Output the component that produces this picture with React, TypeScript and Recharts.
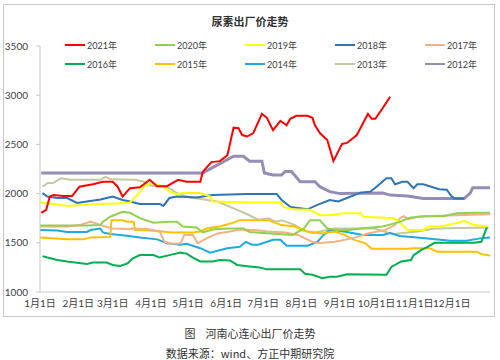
import React from 'react';
import { LineChart, Line, XAxis, YAxis } from 'recharts';

// day of year (0 = Jan 1) and price
const days2021 = [1, 5, 8, 11, 19, 26, 32, 43, 51, 59, 63, 67, 73, 81, 89, 95, 103, 112, 119, 130, 132, 139, 146, 152, 157, 161, 164, 168, 173, 180, 184, 189, 195, 200, 203, 208, 217, 221, 223, 227, 233, 238, 245, 249, 257, 266, 269, 272, 278, 284];
const price2021 = [1805, 1835, 1970, 1985, 1975, 1975, 2070, 2095, 2120, 2120, 2070, 1970, 2055, 2065, 2140, 2075, 2075, 2140, 2120, 2120, 2220, 2320, 2330, 2390, 2670, 2665, 2595, 2580, 2615, 2810, 2770, 2645, 2740, 2695, 2760, 2790, 2790, 2770, 2695, 2615, 2545, 2330, 2505, 2515, 2595, 2810, 2760, 2760, 2870, 2985];

const days2020 = [0, 38, 49, 51, 57, 62, 67, 73, 81, 92, 105, 111, 116, 127, 132, 140, 152, 165, 170, 187, 205, 214, 219, 227, 233, 241, 251, 260, 278, 290, 300, 311, 327, 338, 354, 365];
const price2020 = [1675, 1675, 1680, 1715, 1765, 1790, 1815, 1805, 1750, 1705, 1715, 1715, 1665, 1655, 1605, 1635, 1645, 1645, 1610, 1595, 1580, 1645, 1730, 1730, 1645, 1630, 1630, 1645, 1665, 1705, 1755, 1770, 1770, 1800, 1805, 1805];

const days2019 = [0, 11, 22, 35, 49, 62, 73, 79, 84, 89, 95, 100, 105, 111, 116, 130, 138, 140, 170, 195, 197, 205, 219, 227, 235, 246, 260, 262, 287, 293, 298, 311, 315, 325, 336, 344, 352, 363];
const price2019 = [1910, 1895, 1875, 1885, 1895, 1900, 1910, 1985, 2070, 2105, 2095, 2070, 2020, 1995, 2005, 2005, 1970, 1920, 1910, 1910, 1865, 1840, 1835, 1780, 1780, 1800, 1800, 1765, 1750, 1695, 1630, 1630, 1665, 1665, 1695, 1720, 1680, 1665];

const days2018 = [2, 6, 14, 22, 30, 38, 49, 59, 67, 73, 81, 97, 100, 105, 111, 127, 140, 168, 192, 196, 203, 217, 225, 235, 242, 249, 260, 268, 273, 281, 285, 288, 294, 298, 303, 306, 311, 316, 324, 330, 333, 336, 344];
const price2018 = [2005, 1970, 1955, 1955, 1905, 1920, 1940, 1970, 1935, 1920, 1895, 1895, 1875, 1955, 1970, 1960, 1985, 1995, 1995, 1935, 1865, 1840, 1885, 1935, 1920, 1955, 2010, 2020, 2070, 2155, 2155, 2095, 2120, 2120, 2055, 2095, 2095, 2075, 2045, 2040, 1985, 1950, 1950];

const days2017 = [0, 22, 32, 41, 47, 53, 59, 71, 75, 87, 97, 101, 107, 114, 117, 124, 128, 135, 144, 154, 162, 169, 174, 185, 199, 209, 221, 225, 239, 253, 266, 280, 288, 292, 295, 299, 306, 324, 365];
const price2017 = [1665, 1665, 1680, 1715, 1690, 1665, 1645, 1640, 1645, 1640, 1615, 1510, 1490, 1495, 1580, 1580, 1495, 1545, 1595, 1615, 1635, 1630, 1630, 1615, 1605, 1580, 1510, 1495, 1510, 1545, 1595, 1630, 1680, 1750, 1770, 1740, 1765, 1775, 1790];

const days2016 = [2, 6, 14, 22, 38, 43, 54, 59, 65, 71, 75, 81, 92, 97, 105, 114, 119, 124, 130, 140, 146, 154, 160, 170, 178, 184, 211, 215, 221, 229, 235, 241, 249, 281, 285, 293, 301, 303, 309, 314, 320, 352, 358, 362, 363];
const price2016 = [1365, 1350, 1325, 1310, 1285, 1300, 1300, 1275, 1265, 1290, 1340, 1375, 1375, 1350, 1375, 1400, 1390, 1350, 1310, 1310, 1325, 1320, 1275, 1260, 1250, 1230, 1230, 1185, 1175, 1140, 1155, 1155, 1180, 1175, 1255, 1310, 1325, 1375, 1425, 1455, 1500, 1500, 1510, 1645, 1660];

const days2015 = [0, 22, 35, 41, 57, 58, 67, 71, 76, 77, 89, 108, 124, 130, 135, 146, 157, 162, 185, 196, 207, 217, 229, 239, 247, 255, 264, 269, 298, 303, 316, 322, 354, 358, 365];
const price2015 = [1555, 1535, 1535, 1555, 1560, 1730, 1730, 1715, 1715, 1630, 1625, 1605, 1605, 1615, 1645, 1665, 1705, 1730, 1730, 1680, 1665, 1615, 1595, 1615, 1580, 1530, 1495, 1440, 1440, 1445, 1445, 1410, 1410, 1385, 1370];

const days2014 = [0, 14, 22, 38, 41, 49, 51, 57, 69, 81, 95, 103, 114, 119, 130, 138, 144, 152, 162, 167, 172, 177, 189, 195, 200, 217, 225, 230, 235, 241, 249, 262, 278, 284, 292, 306, 333, 346, 357, 365];
const price2014 = [1630, 1625, 1610, 1610, 1630, 1645, 1605, 1590, 1575, 1555, 1535, 1495, 1480, 1490, 1445, 1400, 1420, 1445, 1460, 1510, 1480, 1480, 1530, 1530, 1470, 1470, 1510, 1580, 1630, 1625, 1610, 1580, 1580, 1600, 1570, 1555, 1520, 1520, 1545, 1555];

const days2013 = [2, 6, 11, 17, 25, 49, 53, 57, 77, 84, 90, 103, 111, 122, 144, 157, 169, 177, 185, 191, 196, 207, 212, 221, 231, 239, 271, 282, 287, 306, 320, 364];
const price2013 = [2070, 2105, 2110, 2155, 2140, 2140, 2170, 2145, 2140, 2120, 2080, 2070, 2005, 1960, 1920, 1850, 1785, 1735, 1750, 1715, 1730, 1680, 1630, 1600, 1625, 1645, 1645, 1605, 1590, 1615, 1645, 1655];

const days2012 = [1, 132, 157, 165, 170, 180, 182, 189, 196, 199, 204, 211, 223, 227, 235, 243, 278, 284, 298, 311, 344, 349, 351, 365];
const price2012 = [2210, 2210, 2380, 2380, 2330, 2330, 2210, 2190, 2190, 2225, 2225, 2120, 2120, 2070, 2020, 2000, 2005, 1985, 1975, 1950, 1950, 2005, 2060, 2060];

const monthStarts = [0, 31, 59, 90, 120, 151, 181, 212, 243, 273, 304, 334];
const monthLabels = ['1月1日', '2月1日', '3月1日', '4月1日', '5月1日', '6月1日', '7月1日', '8月1日', '9月1日', '10月1日', '11月1日', '12月1日'];
const yTicks = [1000, 1500, 2000, 2500, 3000, 3500];

const toPoints = (days: number[], vals: number[]) => days.map((d, i) => ({ day: d, price: vals[i] }));

const series = [
  { name: '2021年', color: '#FF0000', width: 2, data: toPoints(days2021, price2021) },
  { name: '2020年', color: '#92D050', width: 2, data: toPoints(days2020, price2020) },
  { name: '2019年', color: '#FFFF00', width: 2, data: toPoints(days2019, price2019) },
  { name: '2018年', color: '#2E75B6', width: 2, data: toPoints(days2018, price2018) },
  { name: '2017年', color: '#F4B183', width: 2, data: toPoints(days2017, price2017) },
  { name: '2016年', color: '#00B050', width: 2, data: toPoints(days2016, price2016) },
  { name: '2015年', color: '#FFC000', width: 2, data: toPoints(days2015, price2015) },
  { name: '2014年', color: '#1FA9E1', width: 2, data: toPoints(days2014, price2014) },
  { name: '2013年', color: '#C4C8A0', width: 2, data: toPoints(days2013, price2013) },
  { name: '2012年', color: '#958DB5', width: 3, data: toPoints(days2012, price2012) },
];

const font = 'Lato, "Noto Sans CJK SC", sans-serif';

const App = () => {
  // draw older years first so 2021 ends up on top
  const drawOrder = [...series].reverse();

  return (
    <div style={{ position: 'absolute', left: 0, top: 0, width: 500, height: 360, background: '#fff', fontFamily: font }}>
      <div style={{ position: 'absolute', left: 3, top: 4, width: 490, height: 311, border: '1px solid #C8C8C8' }} />
      <div style={{ position: 'absolute', left: 0, top: 13, width: 500, textAlign: 'center', fontSize: 11, fontWeight: 'bold', color: '#333', fontFamily: '"Noto Sans CJK SC", sans-serif' }}>
        尿素出厂价走势
      </div>

      {series.map((s, i) => (
        <div
          key={s.name}
          style={{
            position: 'absolute',
            left: 65 + (i % 5) * 90,
            top: i < 5 ? 39 : 58,
            height: 12,
            display: 'flex',
            alignItems: 'center',
            fontSize: 9,
            color: '#404040',
          }}
        >
          <span style={{ display: 'inline-block', width: 20, height: 2, background: s.color, marginRight: 2 }} />
          <span>{s.name}</span>
        </div>
      ))}

      <div style={{ position: 'absolute', left: 0, top: 0 }}>
        <LineChart width={500} height={320} margin={{ top: 46, right: 10, left: 0, bottom: 0 }}>
          <XAxis
            dataKey="day"
            type="number"
            domain={[0, 365]}
            ticks={monthStarts}
            interval={0}
            tickFormatter={(v: number) => monthLabels[monthStarts.indexOf(v)]}
            tickLine={false}
            axisLine={{ stroke: '#C8C8C8' }}
            height={28}
            tick={{ fontSize: 10, fill: '#404040', fontFamily: font }}
            allowDuplicatedCategory={false}
          />
          <YAxis
            type="number"
            domain={[1000, 3500]}
            ticks={yTicks}
            width={40}
            tickSize={4}
            tickMargin={8}
            tickLine={{ stroke: '#C8C8C8' }}
            axisLine={{ stroke: '#C8C8C8' }}
            tick={{ fontSize: 10, fill: '#404040', fontFamily: font }}
          />
          {drawOrder.map((s) => (
            <Line
              key={s.name}
              data={s.data}
              dataKey="price"
              name={s.name}
              type="linear"
              stroke={s.color}
              strokeWidth={s.width}
              dot={false}
              activeDot={false}
              isAnimationActive={false}
            />
          ))}
        </LineChart>
      </div>

      <div style={{ position: 'absolute', left: 0, top: 325, width: 500, textAlign: 'center', fontSize: 11, color: '#333', fontFamily: '"Noto Sans CJK SC", sans-serif' }}>
        图&nbsp;&nbsp;&nbsp;&nbsp;河南心连心出厂价走势
      </div>
      <div style={{ position: 'absolute', left: 0, top: 345, width: 500, textAlign: 'center', fontSize: 11, color: '#333', fontFamily: '"Noto Sans CJK SC", sans-serif' }}>
        数据来源：wind、方正中期研究院
      </div>
    </div>
  );
};

export default App;
